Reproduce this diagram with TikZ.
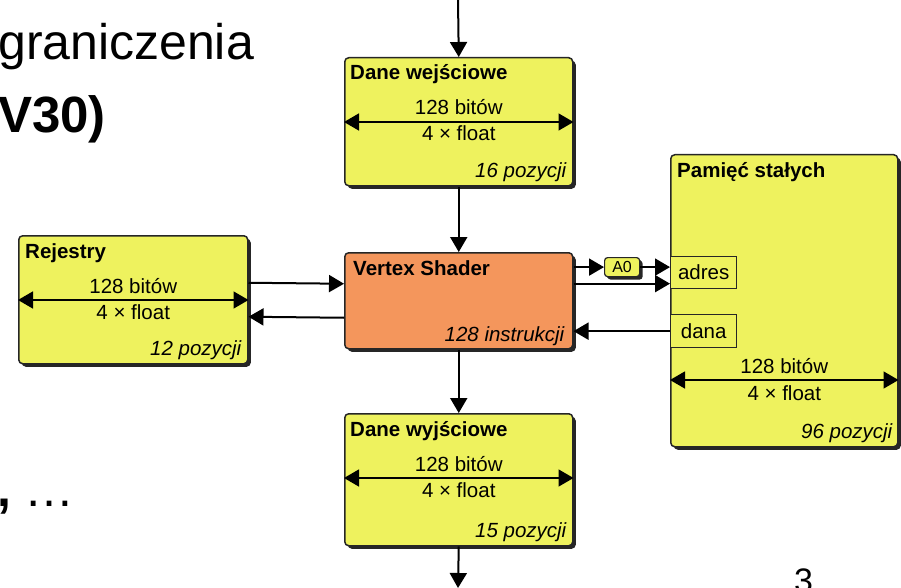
\documentclass[tikz,border=0pt]{standalone}
\usepackage{fontspec}
\setmainfont{Liberation Sans}
\usetikzlibrary{arrows.meta}
\usetikzlibrary{shadows}

\definecolor{memyellow}{RGB}{238,242,94}
\definecolor{shaderorange}{RGB}{244,150,92}

\tikzset{
  unit/.style={draw=black!85, line width=1.5pt, rounded corners=4pt, anchor=north west, inner sep=0pt,
    drop shadow={shadow xshift=3pt, shadow yshift=-3pt, fill=black!85, opacity=1}},
  mem/.style={unit, fill=memyellow},
  port/.style={draw=black!85, line width=1.3pt, fill=memyellow, anchor=north west, inner sep=0pt,
    font=\fontsize{20.5}{24}\selectfont},
  txt/.style={inner sep=0pt, anchor=base, font=\fontsize{20.5}{24}\selectfont},
  ttl/.style={inner sep=0pt, anchor=base west, font=\fontsize{20.5}{24}\selectfont\bfseries},
  cnt/.style={inner sep=0pt, anchor=base east, font=\fontsize{20.5}{24}\selectfont\itshape},
  flow/.style={line width=2pt, -{Triangle[length=15pt,width=17pt]}},
  span/.style={line width=1.5pt, {Triangle[length=15pt,width=17pt]}-{Triangle[length=15pt,width=17pt]}}
}

\begin{document}
\begin{tikzpicture}[x=1pt, y=-1pt]
  \useasboundingbox (0,0) rectangle (901,588);

  % slide text behind the diagram
  \node[inner sep=0pt, anchor=base west, font=\fontsize{50}{60}\selectfont] (head1) at (-2,60) {graniczenia};
  \node[inner sep=0pt, anchor=base west, font=\fontsize{51}{60}\selectfont\bfseries] (head2) at (-2,133) {V30)};
  \node[inner sep=0pt, anchor=base west, font=\fontsize{50}{60}\selectfont] (dots) at (-3,506) {{\bfseries ,} …};
  \node[inner sep=0pt, anchor=base west, font=\fontsize{34}{40}\selectfont] (page) at (794,592) {3};

  % blocks
  \node[mem, minimum width=228, minimum height=128] (wej) at (344,57) {};
  \node[mem, minimum width=229, minimum height=128] (rej) at (18,235) {};
  \node[unit, fill=shaderorange, minimum width=228, minimum height=96] (vs) at (344,252) {};
  \node[mem, minimum width=228, minimum height=132] (wyj) at (344,413) {};
  \node[mem, minimum width=227, minimum height=292] (pam) at (670,154) {};
  \node[port, minimum width=66, minimum height=32] (adres) at (670,256) {adres};
  \node[port, minimum width=66, minimum height=33] (dana) at (670,314) {dana};
  \node[unit, fill=memyellow, line width=1.2pt, rounded corners=3pt, minimum width=35, minimum height=19,
    font=\fontsize{16}{18}\selectfont, drop shadow={shadow xshift=2pt, shadow yshift=-2pt, fill=black!85, opacity=1}]
    (a0) at (604,257) {A0};

  % texts in the blocks
  \node[ttl] at ([shift={(6,23)}]wej.north west) {Dane wejściowe};
  \node[txt] at ([shift={(0,58)}]wej.north) {128 bitów};
  \draw[span] ([shift={(0,65)}]wej.north west) -- ([shift={(0,65)}]wej.north east);
  \node[txt] at ([shift={(0,84)}]wej.north) {4 × float};
  \node[cnt] at ([shift={(-7,-9)}]wej.south east) {16 pozycji};

  \node[ttl] at ([shift={(7,23)}]rej.north west) {Rejestry};
  \node[txt] at ([shift={(0,58)}]rej.north) {128 bitów};
  \draw[span] ([shift={(0,65)}]rej.north west) -- ([shift={(0,65)}]rej.north east);
  \node[txt] at ([shift={(0,84)}]rej.north) {4 × float};
  \node[cnt] at ([shift={(-7,-9)}]rej.south east) {12 pozycji};

  \node[ttl] at ([shift={(9,23)}]vs.north west) {Vertex Shader};
  \node[cnt] at ([shift={(-9,-8)}]vs.south east) {128 instrukcji};

  \node[ttl] at ([shift={(6,23)}]wyj.north west) {Dane wyjściowe};
  \node[txt] at ([shift={(0,58)}]wyj.north) {128 bitów};
  \draw[span] ([shift={(0,65)}]wyj.north west) -- ([shift={(0,65)}]wyj.north east);
  \node[txt] at ([shift={(0,84)}]wyj.north) {4 × float};
  \node[cnt] at ([shift={(-7,-9)}]wyj.south east) {15 pozycji};

  \node[ttl] at ([shift={(7,23)}]pam.north west) {Pamięć stałych};
  \node[txt] at ([shift={(0,219)}]pam.north) {128 bitów};
  \draw[span] ([shift={(0,226)}]pam.north west) -- ([shift={(0,226)}]pam.north east);
  \node[txt] at ([shift={(0,246)}]pam.north) {4 × float};
  \node[cnt] at ([shift={(-6,-9)}]pam.south east) {96 pozycji};

  % data flow
  \coordinate (in) at (458,0);
  \coordinate (out) at (458,588);
  \coordinate (adrin) at ([shift={(0,11)}]adres.west);
  \draw[flow] (in) -- (wej.north);
  \draw[flow] (wej.south) -- (vs.north);
  \draw[flow] (vs.south) -- (wyj.north);
  \draw[flow] (wyj.south) -- (out);
  \draw[flow] ([shift={(0,-17)}]rej.east) -- ([shift={(0,-17)}]vs.west);
  \draw[flow] ([shift={(0,17)}]vs.west) -- ([shift={(0,17)}]rej.east);
  \draw[flow] (vs.east |- a0.west) -- (a0.west);
  \draw[flow] (a0.east) -- (adres.west |- a0.east);
  \draw[flow] (vs.east |- adrin) -- (adrin);
  \draw[flow] (dana.west) -- (vs.east |- dana.west);
\end{tikzpicture}
\end{document}
